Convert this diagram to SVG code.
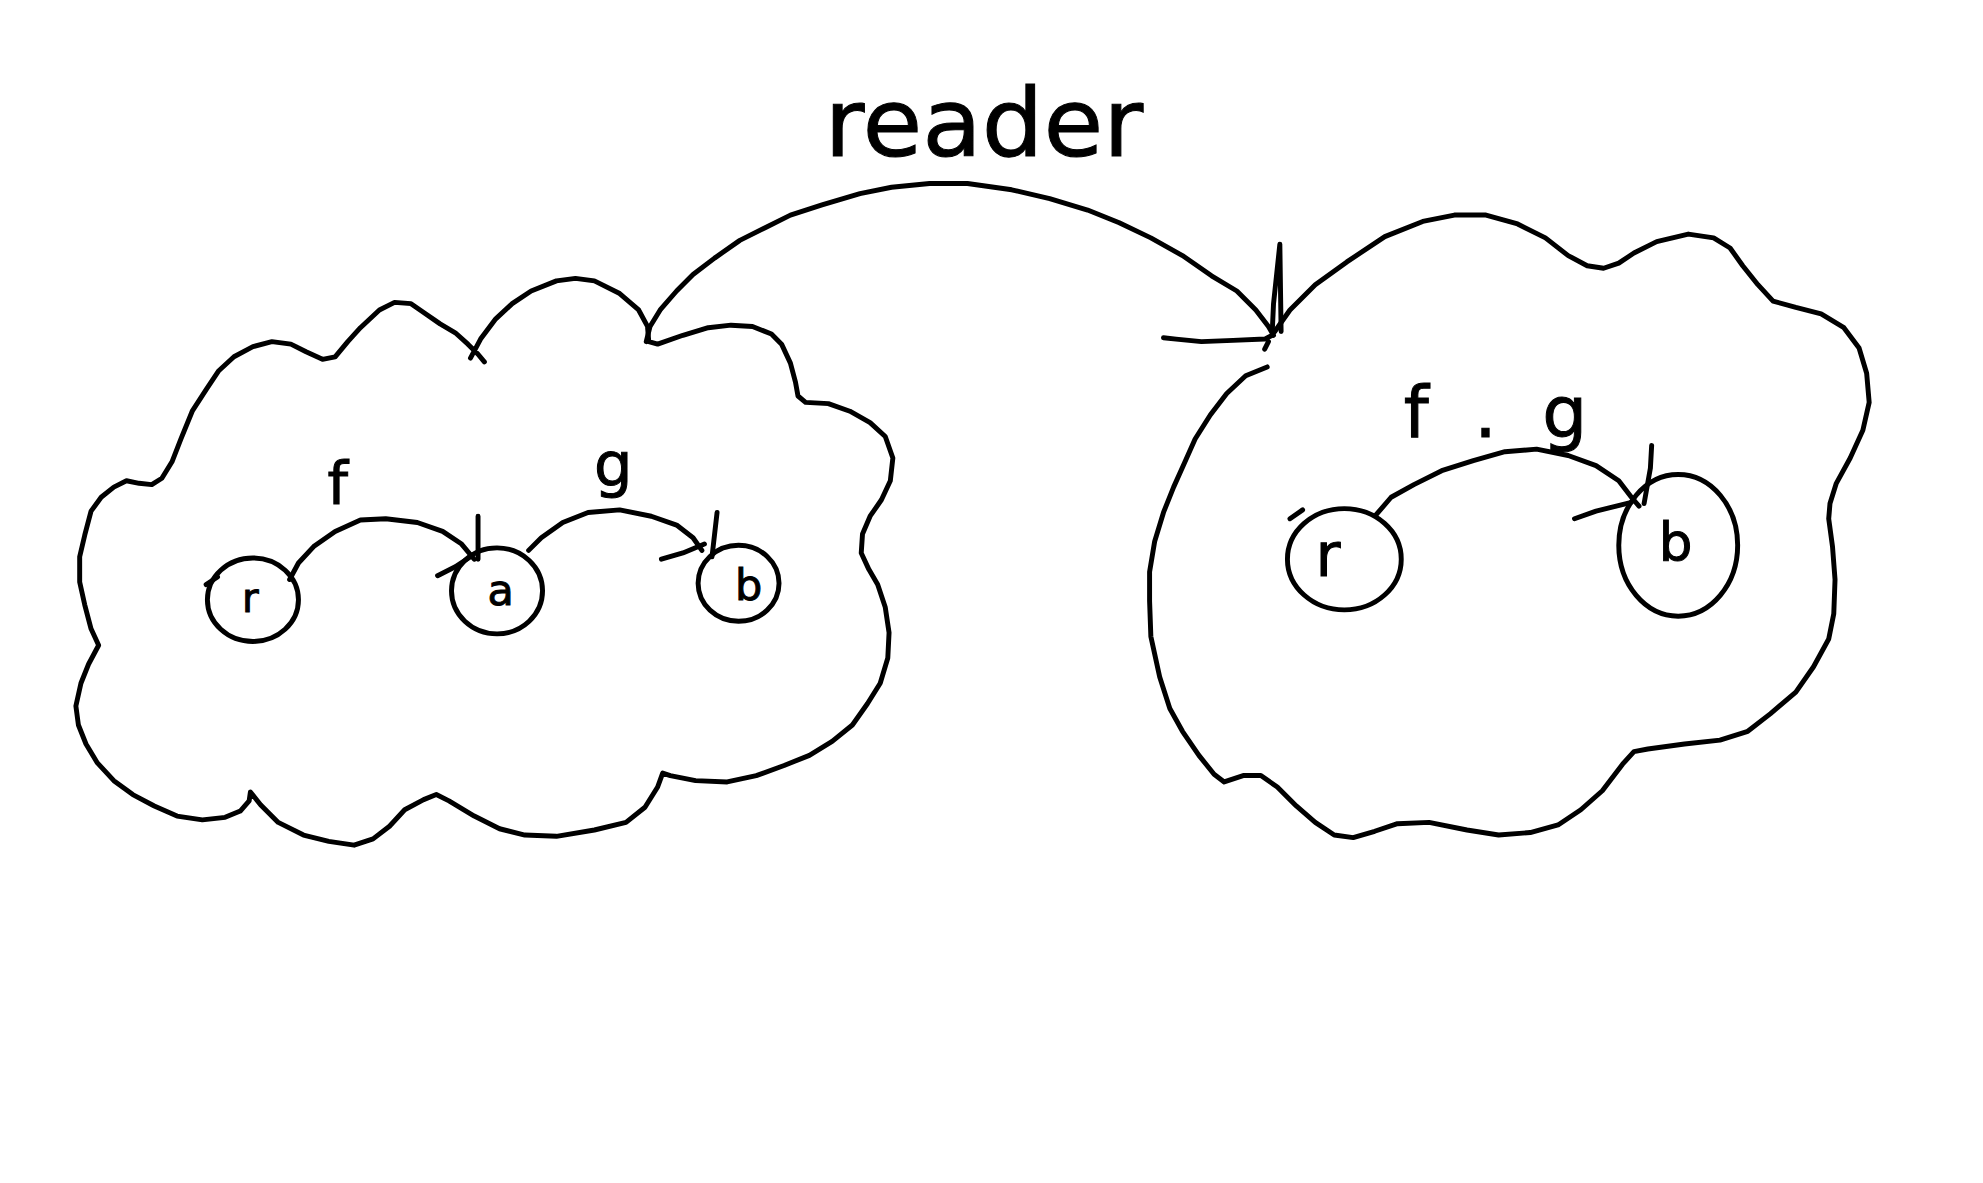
<svg xmlns="http://www.w3.org/2000/svg" width="1983" height="1183" viewBox="0 0 1983 1183">
<style>
.s{fill:none;stroke:#000;stroke-width:3.9;stroke-linecap:round;stroke-linejoin:round}
.t{font-family:"DejaVu Sans",sans-serif;fill:#000;stroke:#000;stroke-width:0.8}
</style>
<rect width="1983" height="1183" fill="#fff"/>
<g transform="scale(1.26467 1.26524)">
<g id="world-left">
<path class="s" d="M372,283 L380,268 L392,252 L405,240 L420,230 L440,222 L455,220 L470,222 L490,232 L505,245 L512,258 L513,270 L520,272 L540,265 L560,259 L578,257 L595,258 L610,264 L618,272 L625,287 L629,302 L631,313 L637,318 L655,319 L672,325 L688,334 L700,345 L706,362 L704,380 L697,395 L688,408 L682,422 L681,437 L687,450 L694,462 L700,480 L703,500 L702,520 L696,540 L686,556 L674,573 L658,586 L640,597 L620,605 L598,613 L575,618 L550,617 L530,613 L524,611 L520,622 L510,638 L495,650 L470,656 L440,661 L415,660 L395,655 L375,645 L355,633 L345,628 L335,632 L320,640 L308,653 L295,663 L280,668 L260,665 L240,660 L220,650 L206,636 L198,626 L197,633 L190,641 L178,646 L160,648 L140,645 L122,637 L105,628 L90,617 L77,603 L68,588 L62,573 L60,558 L64,540 L70,525 L78,510 L72,497 L67,478 L63,460 L63,440 L67,423 L72,404 L80,393 L90,385 L100,380 L110,382 L120,383 L128,378 L136,365 L143,347 L152,325 L163,308 L173,293 L185,282 L200,274 L215,270 L230,272 L242,278 L255,284 L265,282 L275,270 L285,259 L300,245 L312,239 L325,240 L335,247 L348,256 L360,263 L370,272 L378,280 L383,286"/>
</g>
<g id="world-right">
<path class="s" d="M1008,262 L1020,245 L1040,225 L1065,207 L1095,187 L1125,175 L1150,170 L1175,170 L1200,177 L1222,188 L1240,202 L1255,210 L1268,212 L1280,208 L1292,200 L1310,191 L1335,185 L1355,188 L1368,196 L1378,210 L1390,225 L1402,238 L1420,243 L1440,248 L1458,259 L1470,275 L1476,295 L1478,318 L1473,340 L1463,362 L1452,382 L1447,398 L1446,410 L1449,432 L1451,458 L1450,485 L1446,505 L1434,527 L1420,547 L1400,564 L1382,578 L1360,585 L1332,588 L1303,592 L1292,594 L1283,604 L1267,625 L1250,640 L1232,652 L1210,658 L1185,660 L1160,656 L1130,650 L1105,651 L1087,657 L1070,662 L1055,660 L1040,650 L1025,637 L1010,622 L997,613 L983,613 L968,618 L960,612 L948,597 L935,578 L925,560 L917,535 L910,503 L909,475 L909,452 L913,428 L920,405 L928,385 L937,365 L945,347 L957,328 L970,311 L985,297 L1002,290"/>
</g>
<g id="node-r-left">
<ellipse class="s" cx="200" cy="474" rx="36" ry="33"/>
<path class="s" d="M163,462 L172,456"/>
<text class="t" x="198" y="484" font-size="32" text-anchor="middle">r</text>
</g>
<g id="node-a-left">
<ellipse class="s" cx="393" cy="467" rx="36" ry="34"/>
<text class="t" x="396" y="478" font-size="34" text-anchor="middle">a</text>
</g>
<g id="node-b-left">
<ellipse class="s" cx="584" cy="461" rx="32" ry="30"/>
<text class="t" x="592" y="474" font-size="34" text-anchor="middle">b</text>
</g>
<g id="node-r-right">
<ellipse class="s" cx="1063" cy="442" rx="45" ry="40"/>
<path class="s" d="M1020,410 L1030,403"/>
<text class="t" x="1050" y="455" font-size="48" text-anchor="middle">r</text>
</g>
<g id="node-b-right">
<ellipse class="s" cx="1327" cy="431" rx="47" ry="56"/>
<text class="t" x="1325" y="443" font-size="42" text-anchor="middle">b</text>
</g>
<g id="connectors">
<path class="s" d="M229,458 L236,445 L248,432 L265,420 L285,411 L305,410 L330,413 L350,420 L365,430 L375,442"/>
<path class="s" d="M378,408 L378,442 M346,455 L360,448 L372,440"/>
<path class="s" d="M418,435 L428,425 L445,413 L465,405 L490,403 L515,408 L535,415 L548,425 L555,435"/>
<path class="s" d="M567,405 L563,440 M523,442 L540,437 L557,430"/>
<path class="s" d="M511,270 L514,258 L522,245 L535,230 L548,217 L565,204 L585,190 L605,180 L625,170 L650,162 L680,153 L705,148 L735,145 L765,145 L800,150 L830,157 L860,166 L885,176 L910,188 L935,202 L958,218 L978,230 L993,245 L1003,258 L1007,265"/>
<path class="s" d="M1012,193 L1013,262 M1012,193 L1007,240 L1006,262 M920,267 L930,268 L950,270 L975,269 L1000,268 L1006,265 M1000,276 L1003,270"/>
<path class="s" d="M1088,407 L1100,393 L1118,383 L1140,372 L1165,364 L1190,357 L1215,355 L1240,360 L1262,368 L1280,380 L1290,393 L1296,400"/>
<path class="s" d="M1306,352 L1305,370 L1300,398 M1245,410 L1262,404 L1290,397"/>
</g>
<g id="labels">
<text class="t" x="652" y="123" font-size="75" textLength="252" lengthAdjust="spacingAndGlyphs">reader</text>
<text class="t" x="267" y="398" font-size="46" text-anchor="middle">f</text>
<text class="t" x="485" y="383" font-size="48" text-anchor="middle">g</text>
<text class="t" x="1110" y="345" font-size="56" textLength="145" lengthAdjust="spacing">f . g</text>
</g>
</g>
</svg>
